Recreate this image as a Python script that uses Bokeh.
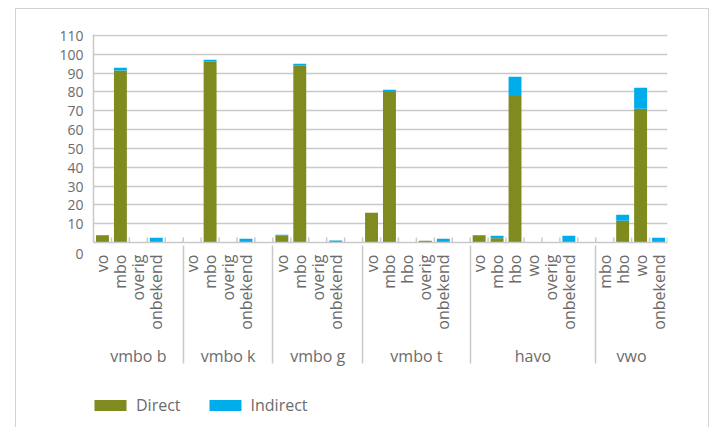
import math

from bokeh.plotting import figure
from bokeh.layouts import column
from bokeh.models import (FactorRange, Range1d, FixedTicker, Legend, LegendItem,
                          ColumnDataSource)
from bokeh.embed import file_html
from bokeh.resources import INLINE

# School type before the transition, and where pupils went next
groups = ["vmbo b", "vmbo k", "vmbo g", "vmbo t", "havo", "vwo"]
destinations = [
    ["vo", "mbo", "overig", "onbekend"],
    ["vo", "mbo", "overig", "onbekend"],
    ["vo", "mbo", "overig", "onbekend"],
    ["vo", "mbo", "hbo", "overig", "onbekend"],
    ["vo", "mbo", "hbo", "wo", "overig", "onbekend"],
    ["mbo", "hbo", "wo", "onbekend"],
]
# Percentages per destination
direct = [
    [3.6, 91.4, 0.0, 0.0],
    [0.0, 96.0, 0.0, 0.0],
    [3.6, 93.9, 0.0, 0.0],
    [15.8, 79.9, 0.0, 0.9, 0.0],
    [3.6, 2.3, 77.8, 0.0, 0.0, 0.0],
    [0.0, 11.5, 71.0, 0.0],
]
indirect = [
    [0.4, 1.4, 0.0, 2.5],
    [0.0, 1.1, 0.0, 2.0],
    [0.5, 1.1, 0.0, 1.1],
    [0.0, 1.2, 0.0, 0.0, 2.0],
    [0.4, 1.3, 10.2, 0.0, 0.0, 3.6],
    [0.0, 3.2, 11.2, 2.5],
]
series = ["Direct", "Indirect"]
y_ticks = list(range(0, 111, 10))

OLIVE = "#7f8a1f"
BLUE = "#00adeb"
GRID = "#c9c9c9"
TEXT = "#6b6b6b"
FONT = "Open Sans"

# nested factors; every group but the last ends with an empty spacer slot
factors, xs, d_vals, i_vals = [], [], [], []
for gi, g in enumerate(groups):
    for si, s in enumerate(destinations[gi]):
        factors.append((g, s))
        xs.append((g, s))
        d_vals.append(direct[gi][si])
        i_vals.append(indirect[gi][si])
    if gi < len(groups) - 1:
        factors.append((g, ""))

src = ColumnDataSource(dict(x=xs, direct=d_vals, indirect=i_vals))

p = figure(
    x_range=FactorRange(*factors, factor_padding=0, group_padding=0,
                        subgroup_padding=0, range_padding=0),
    y_range=Range1d(0, 110.5),
    width=692, height=360,
    min_border_left=77, min_border_right=41,
    min_border_top=25, min_border_bottom=127,
    output_backend="svg", toolbar_location=None,
)
p.outline_line_color = None
p.background_fill_color = "white"
p.border_fill_color = "white"

p.vbar_stack(["direct", "indirect"], x="x", width=0.72,
             source=src, color=[OLIVE, BLUE], line_width=0)

# small inward ticks on the category boundaries
bounds = list(range(len(factors) + 1))
p.segment(x0=bounds, x1=bounds, y0=[0] * len(bounds), y1=[2.7] * len(bounds),
          line_color=GRID, line_width=1.5)

# grid
p.xgrid.grid_line_color = None
p.ygrid.grid_line_color = GRID
p.ygrid.grid_line_width = 1.5

# y axis
yax = p.yaxis[0]
yax.ticker = FixedTicker(ticks=y_ticks)
yax.major_label_overrides = {0: "\n0"}
yax.major_tick_line_color = None
yax.major_tick_out = 0
yax.major_tick_in = 0
yax.minor_tick_line_color = None
yax.axis_line_color = GRID
yax.axis_line_width = 1.5
yax.major_label_standoff = 10
yax.major_label_text_font = FONT
yax.major_label_text_font_size = "14px"
yax.major_label_text_color = TEXT

# x axis: destinations upright, school type below
xax = p.xaxis[0]
xax.axis_line_color = GRID
xax.axis_line_width = 1.5
xax.major_tick_line_color = None
xax.major_tick_out = 0
xax.major_tick_in = 0
xax.major_label_orientation = math.pi / 2
xax.major_label_standoff = 12
xax.major_label_text_font = FONT
xax.major_label_text_font_size = "16px"
xax.major_label_text_color = TEXT
xax.group_text_font = FONT
xax.group_text_font_size = "16px"
xax.group_text_font_style = "normal"
xax.group_text_color = TEXT
xax.separator_line_color = GRID
xax.separator_line_width = 1.5

# legend strip underneath the chart (swatch renderers sit outside its view);
# the column aligns its frame with the chart frame above
leg = figure(width=692, height=70, x_range=Range1d(0, 1), y_range=Range1d(0, 1),
             x_axis_location=None, y_axis_location=None,
             min_border=0, output_backend="svg", toolbar_location=None)
leg.grid.visible = False
leg.outline_line_color = None
swatches = [leg.vbar(x=[-5], top=[-5], width=0.5, color=c, line_width=0)
            for c in (OLIVE, BLUE)]
legend = Legend(
    items=[LegendItem(label=s, renderers=[r]) for s, r in zip(series, swatches)],
    location=(-3, 23), orientation="horizontal",
    glyph_width=40, glyph_height=14, label_standoff=6, spacing=24,
    padding=0, margin=0, border_line_color=None, background_fill_alpha=0,
    label_text_font=FONT, label_text_font_size="16px", label_text_color=TEXT,
)
leg.add_layout(legend)

# light frame around the whole graphic
layout = column(p, leg, spacing=0, margin=(8, 0, 0, 15),
                styles={"border": "1px solid #d2d2d2"})

open("out.html", "w").write(file_html(layout, INLINE))
